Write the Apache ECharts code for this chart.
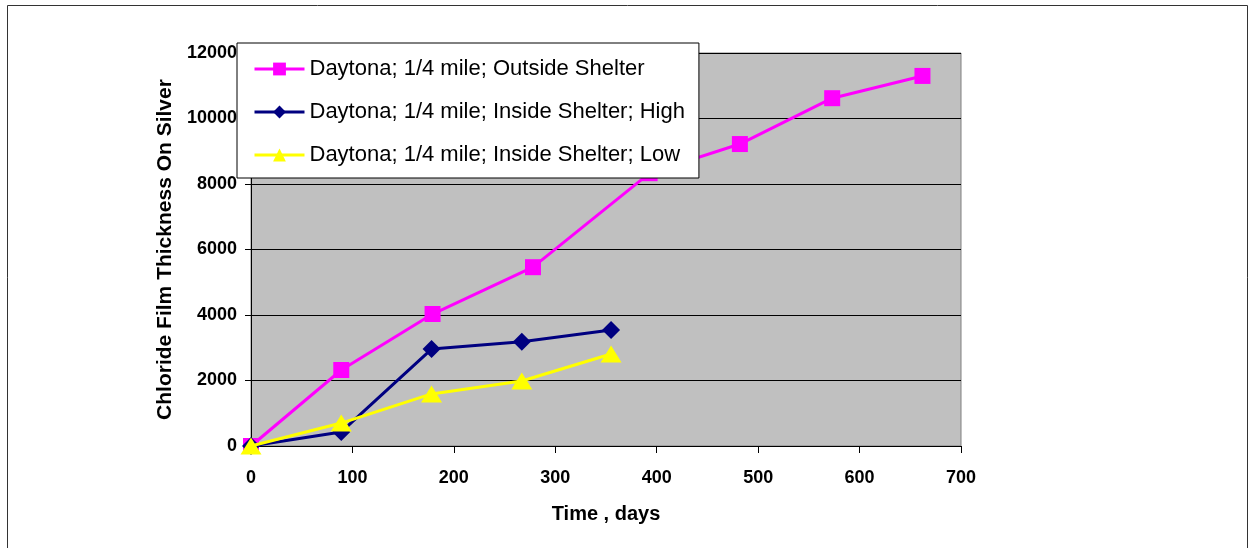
<!DOCTYPE html>
<html>
<head>
<meta charset="utf-8">
<title>Chloride Film Thickness On Silver</title>
<script src="https://cdn.jsdelivr.net/npm/echarts@6/dist/echarts.min.js"></script>
<style>
  html, body { margin: 0; padding: 0; background: #ffffff; }
  #chart { width: 1255px; height: 548px; }
</style>
</head>
<body>
<div id="chart"></div>
<script>
// Exposure time (days) and chloride film thickness for each location
const outsideDays = [0, 89, 179, 278, 393, 482, 573, 662];
const outsideThickness = [0, 2320, 4030, 5460, 8330, 9220, 10620, 11300];

const highDays = [0, 89, 178, 267, 355];
const highThickness = [0, 430, 2960, 3180, 3540];

const lowDays = [0, 89, 178, 267, 355];
const lowThickness = [0, 700, 1590, 1985, 2810];

const seriesNames = [
  'Daytona; 1/4 mile; Outside Shelter',
  'Daytona; 1/4 mile; Inside Shelter; High',
  'Daytona; 1/4 mile; Inside Shelter; Low'
];

const xTicks = { min: 0, max: 700, interval: 100 };
const yTicks = { min: 0, max: 12000, interval: 2000 };

function pairs(xs, ys) {
  return xs.map((x, i) => [x, ys[i]]);
}

const FONT = '"Liberation Sans", Arial, sans-serif';
const chart = echarts.init(document.getElementById('chart'), null, { renderer: 'canvas' });

chart.setOption({
  animation: false,
  backgroundColor: '#ffffff',
  textStyle: { fontFamily: FONT },
  graphic: [{
    type: 'rect',
    shape: { x: 7.5, y: 5.5, width: 1240, height: 560 },
    style: { fill: 'none', stroke: '#333333', lineWidth: 1 },
    silent: true,
    z: 0
  }],
  grid: {
    left: 251, top: 53, right: 294, bottom: 102,
    show: true,
    backgroundColor: '#c0c0c0',
    borderColor: '#808080',
    borderWidth: 1
  },
  legend: {
    orient: 'vertical',
    left: 237, top: 43,
    backgroundColor: '#ffffff',
    borderColor: '#000000',
    borderWidth: 1,
    padding: [15, 14, 12, 16],
    itemGap: 21,
    itemWidth: 50,
    itemHeight: 16,
    lineStyle: { width: 3 },
    textStyle: { fontFamily: FONT, fontSize: 22, color: '#000000' },
    data: seriesNames
  },
  xAxis: {
    type: 'value',
    min: xTicks.min, max: xTicks.max, interval: xTicks.interval,
    name: 'Time , days',
    nameLocation: 'middle',
    nameGap: 58,
    nameTextStyle: { fontFamily: FONT, fontSize: 20, fontWeight: 'bold', color: '#000000' },
    axisLine: { show: true, onZero: false, lineStyle: { color: '#000000', width: 1 } },
    axisTick: { show: true, inside: false, length: 7, lineStyle: { color: '#000000' } },
    axisLabel: { margin: 23, fontFamily: FONT, fontSize: 18, fontWeight: 'bold', color: '#000000' },
    splitLine: { show: false }
  },
  yAxis: {
    type: 'value',
    min: yTicks.min, max: yTicks.max, interval: yTicks.interval,
    name: 'Chloride Film Thickness On Silver',
    nameLocation: 'middle',
    nameGap: 75,
    nameTextStyle: { fontFamily: FONT, fontSize: 21, fontWeight: 'bold', color: '#000000' },
    axisLine: { show: true, onZero: false, lineStyle: { color: '#000000', width: 1 } },
    axisTick: { show: true, inside: false, length: 6, lineStyle: { color: '#000000' } },
    axisLabel: {
      margin: 14, fontFamily: FONT, fontSize: 18, fontWeight: 'bold', color: '#000000',
      formatter: (v) => String(v)
    },
    splitLine: { show: true, lineStyle: { color: '#000000', width: 1 } }
  },
  series: [
    {
      name: seriesNames[0],
      type: 'line',
      data: pairs(outsideDays, outsideThickness),
      symbol: 'rect',
      symbolSize: 16,
      lineStyle: { color: '#ff00ff', width: 3 },
      itemStyle: { color: '#ff00ff' },
      z: 2
    },
    {
      name: seriesNames[1],
      type: 'line',
      data: pairs(highDays, highThickness),
      symbol: 'diamond',
      symbolSize: [18, 18],
      lineStyle: { color: '#000080', width: 3 },
      itemStyle: { color: '#000080' },
      z: 3
    },
    {
      name: seriesNames[2],
      type: 'line',
      data: pairs(lowDays, lowThickness),
      symbol: 'triangle',
      symbolSize: [21, 17],
      lineStyle: { color: '#ffff00', width: 3 },
      itemStyle: { color: '#ffff00' },
      z: 4
    }
  ]
});
</script>
</body>
</html>
